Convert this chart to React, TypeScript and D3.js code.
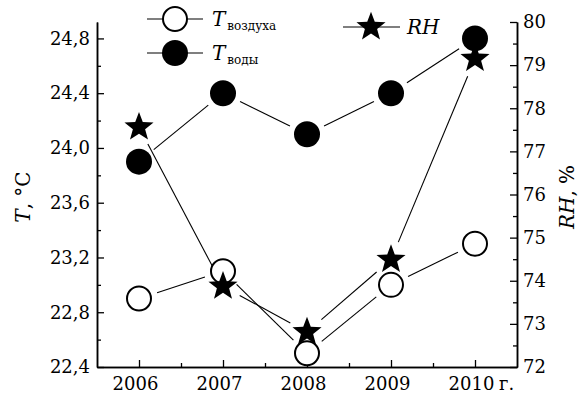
import React, { useEffect, useRef } from 'react';
import * as d3 from 'd3';

// data
const years = [2006, 2007, 2008, 2009, 2010];
const tAir = [22.9, 23.1, 22.5, 23.0, 23.3];
const tWater = [23.9, 24.4, 24.1, 24.4, 24.8];
const rh = [77.56, 73.87, 72.81, 74.49, 79.15];
const tTicks = [22.4, 22.8, 23.2, 23.6, 24.0, 24.4, 24.8];
const rhTicks = [72, 73, 74, 75, 76, 77, 78, 79, 80];

const FONT = 'DejaVu Serif';

const starPath = (R: number, inner: number) => {
  const pts: [number, number][] = [];
  for (let i = 0; i < 10; i++) {
    pts.push([(i * Math.PI) / 5, i % 2 === 0 ? R : R * inner]);
  }
  return d3.lineRadial().curve(d3.curveLinearClosed)(pts) as string;
};

const App = () => {
  const svgRef = useRef<SVGSVGElement>(null);

  useEffect(() => {
    const svg = d3.select(svgRef.current);
    svg.selectAll('*').remove();

    const width = 585;
    const height = 394;
    const left = 97, right = 517, top = 22, bottom = 367;

    const x = d3.scaleLinear().domain([2005.5, 2010.5]).range([left, right]);
    const yT = d3.scaleLinear().domain([22.4, 24.92]).range([bottom, top]);
    const yRH = d3.scaleLinear().domain([72, 80]).range([bottom, top]);

    const fmt = (d: number) => d3.format('.1f')(d).replace('.', ',');

    const styleAxis = (g: any) => {
      g.select('.domain').attr('stroke', '#000').attr('stroke-width', 1.5);
      g.selectAll('.tick line').attr('stroke', '#000').attr('stroke-width', 1.3);
      g.selectAll('text').attr('font-family', FONT).attr('font-size', 18).attr('fill', '#000');
    };

    // minor ticks first
    svg.append('g')
      .attr('transform', `translate(${left},0)`)
      .call(d3.axisLeft(yT).tickValues(d3.range(22.6, 24.9, 0.4)).tickSizeInner(-4).tickSizeOuter(0).tickFormat(() => ''))
      .call(styleAxis);
    svg.append('g')
      .attr('transform', `translate(${right},0)`)
      .call(d3.axisRight(yRH).tickValues(d3.range(72.5, 80, 1)).tickSizeInner(-4).tickSizeOuter(0).tickFormat(() => ''))
      .call(styleAxis);
    svg.append('g')
      .attr('transform', `translate(0,${bottom})`)
      .call(d3.axisBottom(x).tickValues(d3.range(2006.5, 2010, 1)).tickSizeInner(-4).tickSizeOuter(0).tickFormat(() => ''))
      .call(styleAxis);

    // major axes
    svg.append('g')
      .attr('transform', `translate(${left},0)`)
      .call(d3.axisLeft(yT).tickValues(tTicks).tickSizeInner(-7).tickSizeOuter(0).tickPadding(7).tickFormat(fmt as any))
      .call(styleAxis);
    svg.append('g')
      .attr('transform', `translate(${right},0)`)
      .call(d3.axisRight(yRH).tickValues(rhTicks).tickSizeInner(-7).tickSizeOuter(0).tickPadding(6).tickFormat(d3.format('d') as any))
      .call(styleAxis);
    const xAxis = svg.append('g')
      .attr('transform', `translate(0,${bottom})`)
      .call(d3.axisBottom(x).tickValues(years).tickSizeInner(-7).tickSizeOuter(0).tickPadding(10).tickFormat(d3.format('d') as any))
      .call(styleAxis);
    xAxis.selectAll('.tick text').attr('dx', -4);
    xAxis.append('text')
      .attr('x', x(2010) + 24)
      .attr('y', 10)
      .attr('dy', '0.71em')
      .attr('font-family', FONT)
      .attr('font-size', 18)
      .attr('fill', '#000')
      .attr('text-anchor', 'start')
      .text('г.');

    // axis titles
    const tTitle = svg.append('text')
      .attr('transform', `translate(30,197) rotate(-90)`)
      .attr('text-anchor', 'middle')
      .attr('font-family', FONT)
      .attr('font-size', 20);
    tTitle.append('tspan').attr('font-style', 'italic').text('T');
    tTitle.append('tspan').text(', °C');

    const rhTitle = svg.append('text')
      .attr('transform', `translate(574,197) rotate(-90)`)
      .attr('text-anchor', 'middle')
      .attr('font-family', FONT)
      .attr('font-size', 20);
    rhTitle.append('tspan').attr('font-style', 'italic').text('RH');
    rhTitle.append('tspan').text(', %');

    // line segments stop short of the markers
    const gap = 19;
    const drawSegments = (pts: [number, number][]) => {
      d3.pairs(pts).forEach(([a, b]) => {
        const dx = b[0] - a[0], dy = b[1] - a[1];
        const len = Math.hypot(dx, dy);
        if (len <= 2 * gap) return;
        const ux = dx / len, uy = dy / len;
        svg.append('line')
          .attr('x1', a[0] + ux * gap).attr('y1', a[1] + uy * gap)
          .attr('x2', b[0] - ux * gap).attr('y2', b[1] - uy * gap)
          .attr('stroke', '#000')
          .attr('stroke-width', 1.1);
      });
    };

    const airPts = years.map((d, i) => [x(d), yT(tAir[i])] as [number, number]);
    const waterPts = years.map((d, i) => [x(d), yT(tWater[i])] as [number, number]);
    const rhPts = years.map((d, i) => [x(d), yRH(rh[i])] as [number, number]);

    drawSegments(airPts);
    drawSegments(waterPts);
    drawSegments(rhPts);

    const r = 13;
    const star = starPath(15.3, 0.42);

    svg.selectAll('circle.water')
      .data(waterPts)
      .join('circle')
      .attr('class', 'water')
      .attr('cx', (d) => d[0])
      .attr('cy', (d) => d[1])
      .attr('r', r)
      .attr('fill', '#000');

    svg.selectAll('circle.air')
      .data(airPts)
      .join('circle')
      .attr('class', 'air')
      .attr('cx', (d) => d[0])
      .attr('cy', (d) => d[1])
      .attr('r', r - 1)
      .attr('fill', '#fff')
      .attr('stroke', '#000')
      .attr('stroke-width', 2);

    svg.selectAll('path.rh')
      .data(rhPts)
      .join('path')
      .attr('class', 'rh')
      .attr('d', star)
      .attr('transform', (d) => `translate(${d[0]},${d[1]})`)
      .attr('fill', '#000');

    // legend
    const legend = svg.append('g');
    const items = [
      { cx: 175, cy: 19, kind: 'air', sub: 'воздуха' },
      { cx: 175, cy: 53, kind: 'water', sub: 'воды' },
    ];
    items.forEach((it) => {
      legend.append('line')
        .attr('x1', it.cx - 28).attr('x2', it.cx + 28)
        .attr('y1', it.cy).attr('y2', it.cy)
        .attr('stroke', '#000').attr('stroke-width', 1.1);
      legend.append('circle')
        .attr('cx', it.cx).attr('cy', it.cy)
        .attr('r', it.kind === 'air' ? r - 1 : r)
        .attr('fill', it.kind === 'air' ? '#fff' : '#000')
        .attr('stroke', '#000')
        .attr('stroke-width', it.kind === 'air' ? 2 : 0);
      const t = legend.append('text')
        .attr('x', it.cx + 37)
        .attr('y', it.cy + 7)
        .attr('font-family', FONT)
        .attr('font-size', 20);
      t.append('tspan').attr('font-style', 'italic').text('T');
      t.append('tspan').attr('font-size', 12).attr('dy', 4).attr('dx', 2).text(it.sub);
    });

    legend.append('line')
      .attr('x1', 343).attr('x2', 400)
      .attr('y1', 27).attr('y2', 27)
      .attr('stroke', '#000').attr('stroke-width', 1.1);
    legend.append('path')
      .attr('d', star)
      .attr('transform', 'translate(371,27)')
      .attr('fill', '#000');
    legend.append('text')
      .attr('x', 407)
      .attr('y', 34)
      .attr('font-family', FONT)
      .attr('font-size', 20)
      .attr('font-style', 'italic')
      .text('RH');

    svg.attr('width', width).attr('height', height);
  }, []);

  return (
    <svg
      ref={svgRef}
      width={585}
      height={394}
      style={{ position: 'absolute', left: 0, top: 0, background: '#fff' }}
    />
  );
};

export default App;
